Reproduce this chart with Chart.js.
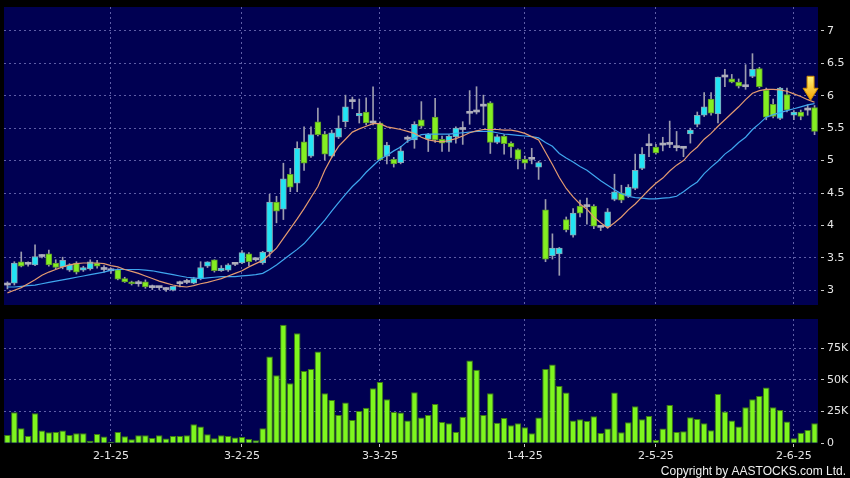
<!DOCTYPE html>
<html>
<head>
<meta charset="utf-8">
<script src="https://cdn.jsdelivr.net/npm/chart.js@4.4.1/dist/chart.umd.min.js"></script>
<style>
  html, body { margin: 0; padding: 0; background: #000; }
  #wrap { position: relative; width: 850px; height: 478px; background: #000; }
  canvas { position: absolute; left: 0; }
  #price { top: 0; }
  #vol { top: 310px; }
</style>
</head>
<body>
<div id="wrap">
  <canvas id="price" width="850" height="310"></canvas>
  <canvas id="vol" width="850" height="168"></canvas>
</div>
<script>
// trading days (d-m-yy)
const dates = [
  '9-12-24','10-12-24','11-12-24','12-12-24','13-12-24','16-12-24','17-12-24','18-12-24','19-12-24','20-12-24',
  '23-12-24','24-12-24','27-12-24','30-12-24','31-12-24',
  '2-1-25','3-1-25','6-1-25','7-1-25','8-1-25','9-1-25','10-1-25','13-1-25','14-1-25','15-1-25',
  '16-1-25','17-1-25','20-1-25','21-1-25','22-1-25','23-1-25','24-1-25','27-1-25','28-1-25',
  '3-2-25','4-2-25','5-2-25','6-2-25','7-2-25','10-2-25','11-2-25','12-2-25','13-2-25','14-2-25',
  '17-2-25','18-2-25','19-2-25','20-2-25','21-2-25','24-2-25','25-2-25','26-2-25','27-2-25','28-2-25',
  '3-3-25','4-3-25','5-3-25','6-3-25','7-3-25','10-3-25','11-3-25','12-3-25','13-3-25','14-3-25',
  '17-3-25','18-3-25','19-3-25','20-3-25','21-3-25','24-3-25','25-3-25','26-3-25','27-3-25','28-3-25','31-3-25',
  '1-4-25','2-4-25','3-4-25','7-4-25','8-4-25','9-4-25','10-4-25','11-4-25','14-4-25','15-4-25',
  '16-4-25','17-4-25','22-4-25','23-4-25','24-4-25','25-4-25','28-4-25','29-4-25','30-4-25',
  '2-5-25','6-5-25','7-5-25','8-5-25','9-5-25','12-5-25','13-5-25','14-5-25','15-5-25','16-5-25',
  '19-5-25','20-5-25','21-5-25','22-5-25','23-5-25','26-5-25','27-5-25','28-5-25','29-5-25','30-5-25',
  '2-6-25','3-6-25','4-6-25','5-6-25'
];
const monthTicks = ['2-1-25', '3-2-25', '3-3-25', '1-4-25', '2-5-25', '2-6-25'];

const openP = [
  3.08,3.11,3.44,3.40,3.39,3.52,3.56,3.42,3.36,3.31,
  3.42,3.31,3.33,3.42,3.32,3.30,3.32,3.18,3.12,3.10,
  3.13,3.04,3.04,3.01,3.00,3.10,3.12,3.11,3.18,3.37,
  3.47,3.30,3.31,3.40,3.42,3.56,3.47,3.42,3.59,4.36,
  4.25,4.79,4.65,5.29,5.07,5.60,5.41,5.07,5.36,5.60,
  5.91,5.69,5.75,5.58,5.58,5.07,5.02,4.97,5.33,5.32,
  5.63,5.33,5.67,5.33,5.28,5.37,5.48,5.73,5.75,5.84,
  5.89,5.28,5.38,5.27,5.17,5.02,5.02,4.90,4.24,3.53,
  3.56,4.09,3.85,4.30,4.29,4.30,3.97,3.98,4.40,4.50,
  4.45,4.57,4.88,5.23,5.21,5.24,5.25,5.20,5.19,5.41,
  5.56,5.70,5.95,5.72,6.29,6.26,6.21,6.14,6.30,6.42,
  6.09,5.87,5.65,6.02,5.70,5.75,5.78,5.82
];
const highP = [
  3.13,3.44,3.59,3.44,3.70,3.55,3.62,3.47,3.51,3.41,
  3.44,3.37,3.47,3.46,3.38,3.34,3.33,3.20,3.14,3.15,
  3.16,3.08,3.06,3.04,3.06,3.14,3.17,3.20,3.44,3.44,
  3.47,3.38,3.41,3.42,3.61,3.58,3.50,3.60,4.48,4.45,
  4.96,4.88,5.29,5.52,5.52,5.81,5.45,5.47,5.69,6.01,
  5.98,5.95,5.97,6.14,5.60,5.28,5.05,5.22,5.38,5.60,
  5.91,5.42,5.96,5.38,5.40,5.52,5.60,6.08,6.14,6.01,
  5.91,5.40,5.40,5.29,5.18,5.07,5.19,4.99,4.40,3.87,
  3.66,4.13,4.26,4.39,4.42,4.32,4.00,4.26,4.79,4.62,
  4.63,5.10,5.20,5.41,5.25,5.36,5.61,5.45,5.22,5.50,
  5.75,6.05,6.05,6.29,6.41,6.33,6.26,6.48,6.65,6.44,
  6.12,5.95,6.13,6.12,5.77,5.78,5.86,5.85
];
const lowP = [
  3.02,3.08,3.36,3.37,3.38,3.50,3.37,3.33,3.33,3.29,
  3.25,3.29,3.31,3.34,3.28,3.26,3.16,3.12,3.08,3.06,
  3.03,3.01,3.01,2.98,2.99,3.05,3.10,3.10,3.16,3.35,
  3.28,3.29,3.29,3.38,3.41,3.38,3.45,3.40,3.52,4.04,
  4.09,4.52,4.52,4.85,5.05,5.38,5.01,5.05,5.34,5.52,
  5.80,5.58,5.55,5.55,5.00,4.95,4.90,4.95,5.28,5.19,
  5.50,5.14,5.28,5.14,5.14,5.27,5.25,5.56,5.72,5.55,
  5.11,5.26,5.10,5.05,4.87,4.87,4.95,4.71,3.44,3.48,
  3.23,3.90,3.82,4.13,4.02,3.95,3.92,3.96,4.38,4.35,
  4.43,4.55,4.86,5.06,5.10,5.15,5.20,5.15,5.06,5.27,
  5.52,5.68,5.70,5.58,6.14,6.20,6.12,6.10,6.28,6.12,
  5.63,5.66,5.63,5.75,5.63,5.63,5.70,5.40
];
const closeP = [
  3.08,3.42,3.37,3.40,3.52,3.52,3.39,3.35,3.46,3.39,
  3.28,3.35,3.44,3.37,3.32,3.30,3.17,3.13,3.10,3.10,
  3.05,3.04,3.04,3.01,3.06,3.10,3.12,3.18,3.35,3.44,
  3.30,3.34,3.39,3.40,3.58,3.44,3.47,3.59,4.36,4.22,
  4.72,4.59,5.19,4.96,5.40,5.40,5.10,5.43,5.50,5.83,
  5.91,5.73,5.58,5.58,5.01,5.24,4.95,5.15,5.33,5.56,
  5.53,5.41,5.32,5.27,5.38,5.50,5.48,5.73,5.75,5.84,
  5.28,5.37,5.26,5.21,5.02,4.96,5.02,4.97,3.48,3.65,
  3.65,3.93,4.19,4.19,4.29,3.99,3.97,4.21,4.52,4.39,
  4.59,4.85,5.10,5.23,5.12,5.24,5.25,5.20,5.19,5.47,
  5.70,5.83,5.73,6.29,6.29,6.21,6.15,6.14,6.41,6.14,
  5.67,5.68,6.12,5.78,5.75,5.68,5.78,5.45
];

// moving averages
const ma10 = [
  2.96,3.00,3.04,3.10,3.16,3.23,3.28,3.32,3.36,3.39,
  3.41,3.42,3.42,3.42,3.41,3.38,3.36,3.32,3.29,3.26,
  3.22,3.18,3.14,3.11,3.08,3.06,3.05,3.07,3.10,3.12,
  3.15,3.18,3.22,3.26,3.30,3.36,3.41,3.46,3.55,3.65,
  3.80,3.95,4.10,4.26,4.43,4.60,4.85,5.05,5.22,5.33,
  5.44,5.49,5.53,5.57,5.57,5.52,5.50,5.48,5.45,5.42,
  5.36,5.32,5.30,5.29,5.31,5.34,5.38,5.43,5.46,5.48,
  5.48,5.48,5.47,5.47,5.45,5.42,5.37,5.32,5.13,4.94,
  4.74,4.57,4.44,4.33,4.25,4.13,4.04,3.96,4.04,4.13,
  4.24,4.33,4.44,4.55,4.65,4.73,4.84,4.93,5.00,5.12,
  5.21,5.33,5.42,5.53,5.63,5.73,5.83,5.94,6.04,6.08,
  6.10,6.10,6.09,6.07,6.03,5.99,5.94,5.90
];
const ma20 = [
  3.05,3.05,3.06,3.07,3.08,3.10,3.12,3.14,3.16,3.18,
  3.20,3.22,3.24,3.26,3.28,3.31,3.32,3.32,3.32,3.32,
  3.31,3.30,3.28,3.26,3.24,3.22,3.20,3.19,3.18,3.19,
  3.20,3.21,3.21,3.21,3.22,3.23,3.24,3.26,3.32,3.39,
  3.47,3.55,3.63,3.72,3.84,3.96,4.08,4.22,4.35,4.48,
  4.60,4.70,4.82,4.92,5.02,5.08,5.15,5.21,5.30,5.35,
  5.40,5.41,5.41,5.41,5.41,5.42,5.43,5.44,5.45,5.45,
  5.45,5.43,5.41,5.40,5.39,5.38,5.37,5.35,5.28,5.22,
  5.11,5.04,4.98,4.91,4.85,4.77,4.69,4.62,4.55,4.49,
  4.45,4.43,4.42,4.41,4.41,4.42,4.43,4.45,4.52,4.60,
  4.67,4.80,4.90,4.99,5.10,5.18,5.28,5.36,5.48,5.57,
  5.67,5.71,5.74,5.77,5.80,5.83,5.86,5.88
];

// volume in thousands of shares
const volumeK = [
  6.6,24.5,11.8,5.8,23.7,10,8.7,8.9,10,6.6,
  7.9,7.9,2.1,7.4,5.3,1.3,8.9,5.5,3.2,6.3,
  6.3,4.2,6.3,3.7,5.8,5.8,6.3,15,13.2,7.1,
  3.9,6.3,5.8,4.5,5,3.4,2.4,11.8,68.4,53.7,
  93.4,47.3,86.8,57,58.6,72.3,39.5,34.2,22.4,32.1,
  18.4,25.5,28.1,43.4,48.4,34.7,24.7,24.2,17.9,40.2,
  20.3,22.4,31,16.8,15.8,8.9,21,65.2,57.9,22.4,
  39.5,16.3,20,14.2,15.8,12.6,7.9,20.3,58.6,62.1,
  45.2,40,17.9,18.9,17.6,21.3,8.2,11.6,40,8.7,
  16.6,29.2,18.9,21.6,2.6,11.6,30.2,8.9,9.5,20.5,
  19.2,15.8,10.3,38.9,25,17.9,13.2,28.4,34.7,37.3,
  43.9,28.4,26.3,17.1,3.9,8.4,10.5,15.8
];

const priceTicks = [3, 3.5, 4, 4.5, 5, 5.5, 6, 6.5, 7];
const volTicks = [0, 25, 50, 75];

const NAVY = '#000052';
const GRID = 'rgba(125,125,195,0.75)';
const TICK_TXT = '#e6e6e6';
const UP = '#22e4f4', UP_EDGE = '#8aa4b4';
const DOWN = '#84ee22', DOWN_EDGE = '#5c9a28';
const DOJI = '#aeaebc';
const FONT = { family: 'DejaVu Sans', size: 11 };

function keepMonthTicks(scale) {
  scale.ticks = scale.ticks.filter(t => monthTicks.includes(dates[t.value]));
}

// fixed axis width, and no extra room reserved for the end labels
function fitRightAxis(scale) {
  scale.width = 32;
  scale.paddingTop = 0;
  scale.paddingBottom = 0;
}

// navy plot panel on a black page
const panelBg = {
  id: 'panelBg',
  beforeDraw(chart) {
    const { ctx, chartArea: a } = chart;
    ctx.save();
    ctx.fillStyle = '#000';
    ctx.fillRect(0, 0, chart.width, chart.height);
    ctx.fillStyle = NAVY;
    ctx.fillRect(a.left, a.top, a.right - a.left, a.bottom - a.top);
    ctx.restore();
  }
};

// yellow marker over the latest bar
const lastArrow = {
  id: 'lastArrow',
  afterDatasetsDraw(chart) {
    const { ctx, scales } = chart;
    const i = dates.length - 1;
    const cx = scales.x.getPixelForValue(i) - 4;
    const tip = scales.y.getPixelForValue(ma10[i]) - 2;
    ctx.save();
    const g = ctx.createLinearGradient(0, tip - 24, 0, tip);
    g.addColorStop(0, '#fff27a');
    g.addColorStop(1, '#f4a000');
    ctx.beginPath();
    ctx.moveTo(cx - 3.5, tip - 24);
    ctx.lineTo(cx + 3.5, tip - 24);
    ctx.lineTo(cx + 3.5, tip - 12);
    ctx.lineTo(cx + 7.5, tip - 12);
    ctx.lineTo(cx, tip);
    ctx.lineTo(cx - 7.5, tip - 12);
    ctx.lineTo(cx - 3.5, tip - 12);
    ctx.closePath();
    ctx.fillStyle = g;
    ctx.fill();
    ctx.strokeStyle = '#d08a00';
    ctx.lineWidth = 1;
    ctx.stroke();
    ctx.restore();
  }
};

const copyright = {
  id: 'copyright',
  afterDraw(chart) {
    const ctx = chart.ctx;
    ctx.save();
    ctx.font = '12px "Liberation Sans"';
    ctx.fillStyle = '#f0f0f0';
    ctx.textAlign = 'right';
    ctx.textBaseline = 'alphabetic';
    ctx.fillText('Copyright by AASTOCKS.com Ltd.', 846, 165);
    ctx.restore();
  }
};

function candleColor(i, up, down) {
  if (closeP[i] > openP[i]) return up;
  if (closeP[i] < openP[i]) return down;
  return DOJI;
}

// price panel
new Chart(document.getElementById('price'), {
  type: 'bar',
  data: {
    labels: dates,
    datasets: [
      {
        type: 'line',
        label: 'MA10',
        data: ma10,
        borderColor: '#e39a70',
        borderWidth: 1.2,
        pointRadius: 0,
        order: 0
      },
      {
        type: 'line',
        label: 'MA20',
        data: ma20,
        borderColor: '#3fa6ee',
        borderWidth: 1.2,
        pointRadius: 0,
        order: 0
      },
      {
        label: 'Body',
        data: dates.map((_, i) => [openP[i], closeP[i]]),
        backgroundColor: ctx => candleColor(ctx.dataIndex, UP, DOWN),
        borderColor: ctx => candleColor(ctx.dataIndex, UP_EDGE, DOWN_EDGE),
        borderWidth: ctx => (openP[ctx.dataIndex] === closeP[ctx.dataIndex] ? 0 : 1),
        borderSkipped: false,
        barThickness: 6,
        minBarLength: 2,
        grouped: false,
        order: 1
      },
      {
        label: 'Wick',
        data: dates.map((_, i) => [lowP[i], highP[i]]),
        backgroundColor: '#9c9cae',
        barThickness: 1,
        grouped: false,
        order: 2
      }
    ]
  },
  options: {
    responsive: false,
    animation: false,
    devicePixelRatio: 1,
    layout: { padding: { left: 4, top: 7, right: 0, bottom: 5 } },
    plugins: {
      legend: { display: false },
      tooltip: { enabled: false }
    },
    scales: {
      x: {
        offset: true,
        grid: { offset: false, color: GRID, drawTicks: false },
        border: { display: false, dash: [2, 3] },
        ticks: { display: false, autoSkip: false },
        afterBuildTicks: keepMonthTicks,
        afterFit: s => { s.height = 0; s.paddingLeft = 0; s.paddingRight = 0; }
      },
      y: {
        position: 'right',
        min: 2.772,
        max: 7.37,
        afterBuildTicks: s => { s.ticks = priceTicks.map(v => ({ value: v })); },
        afterFit: fitRightAxis,
        grid: {
          color: GRID,
          tickLength: 6,
          tickColor: '#c8c8c8',
          tickBorderDash: [0, 3, 3, 20]
        },
        border: { display: false, dash: [2, 3] },
        ticks: { color: TICK_TXT, font: FONT, padding: 3, callback: v => String(v) }
      }
    }
  },
  plugins: [panelBg, lastArrow]
});

// volume panel
new Chart(document.getElementById('vol'), {
  type: 'bar',
  data: {
    labels: dates,
    datasets: [{
      label: 'Volume',
      data: volumeK,
      backgroundColor: '#7ef61e',
      borderColor: '#3f7c12',
      borderWidth: 1,
      borderSkipped: 'bottom',
      barPercentage: 0.95,
      categoryPercentage: 1
    }]
  },
  options: {
    responsive: false,
    animation: false,
    devicePixelRatio: 1,
    layout: { padding: { left: 4, top: 9, right: 0, bottom: 0 } },
    plugins: {
      legend: { display: false },
      tooltip: { enabled: false }
    },
    scales: {
      x: {
        offset: true,
        grid: {
          offset: false,
          color: GRID,
          tickLength: 4,
          tickColor: '#c8c8c8',
          tickBorderDash: [0, 1, 3, 20]
        },
        border: { display: false, dash: [2, 3] },
        ticks: { color: TICK_TXT, font: FONT, autoSkip: false, maxRotation: 0, padding: 2 },
        afterBuildTicks: keepMonthTicks,
        afterFit: s => { s.height = 34.7; s.paddingLeft = 0; s.paddingRight = 0; }
      },
      y: {
        position: 'right',
        min: 0,
        max: 98,
        afterBuildTicks: s => { s.ticks = volTicks.map(v => ({ value: v })); },
        afterFit: fitRightAxis,
        grid: {
          color: ctx => (ctx.tick && ctx.tick.value === 0 ? 'rgba(0,0,0,0)' : GRID),
          tickLength: 6,
          tickColor: '#c8c8c8',
          tickBorderDash: [0, 3, 3, 20]
        },
        border: { display: false, dash: [2, 3] },
        ticks: { color: TICK_TXT, font: FONT, padding: 3, callback: v => (v === 0 ? '0' : v + 'K') }
      }
    }
  },
  plugins: [panelBg, copyright]
});
</script>
</body>
</html>
